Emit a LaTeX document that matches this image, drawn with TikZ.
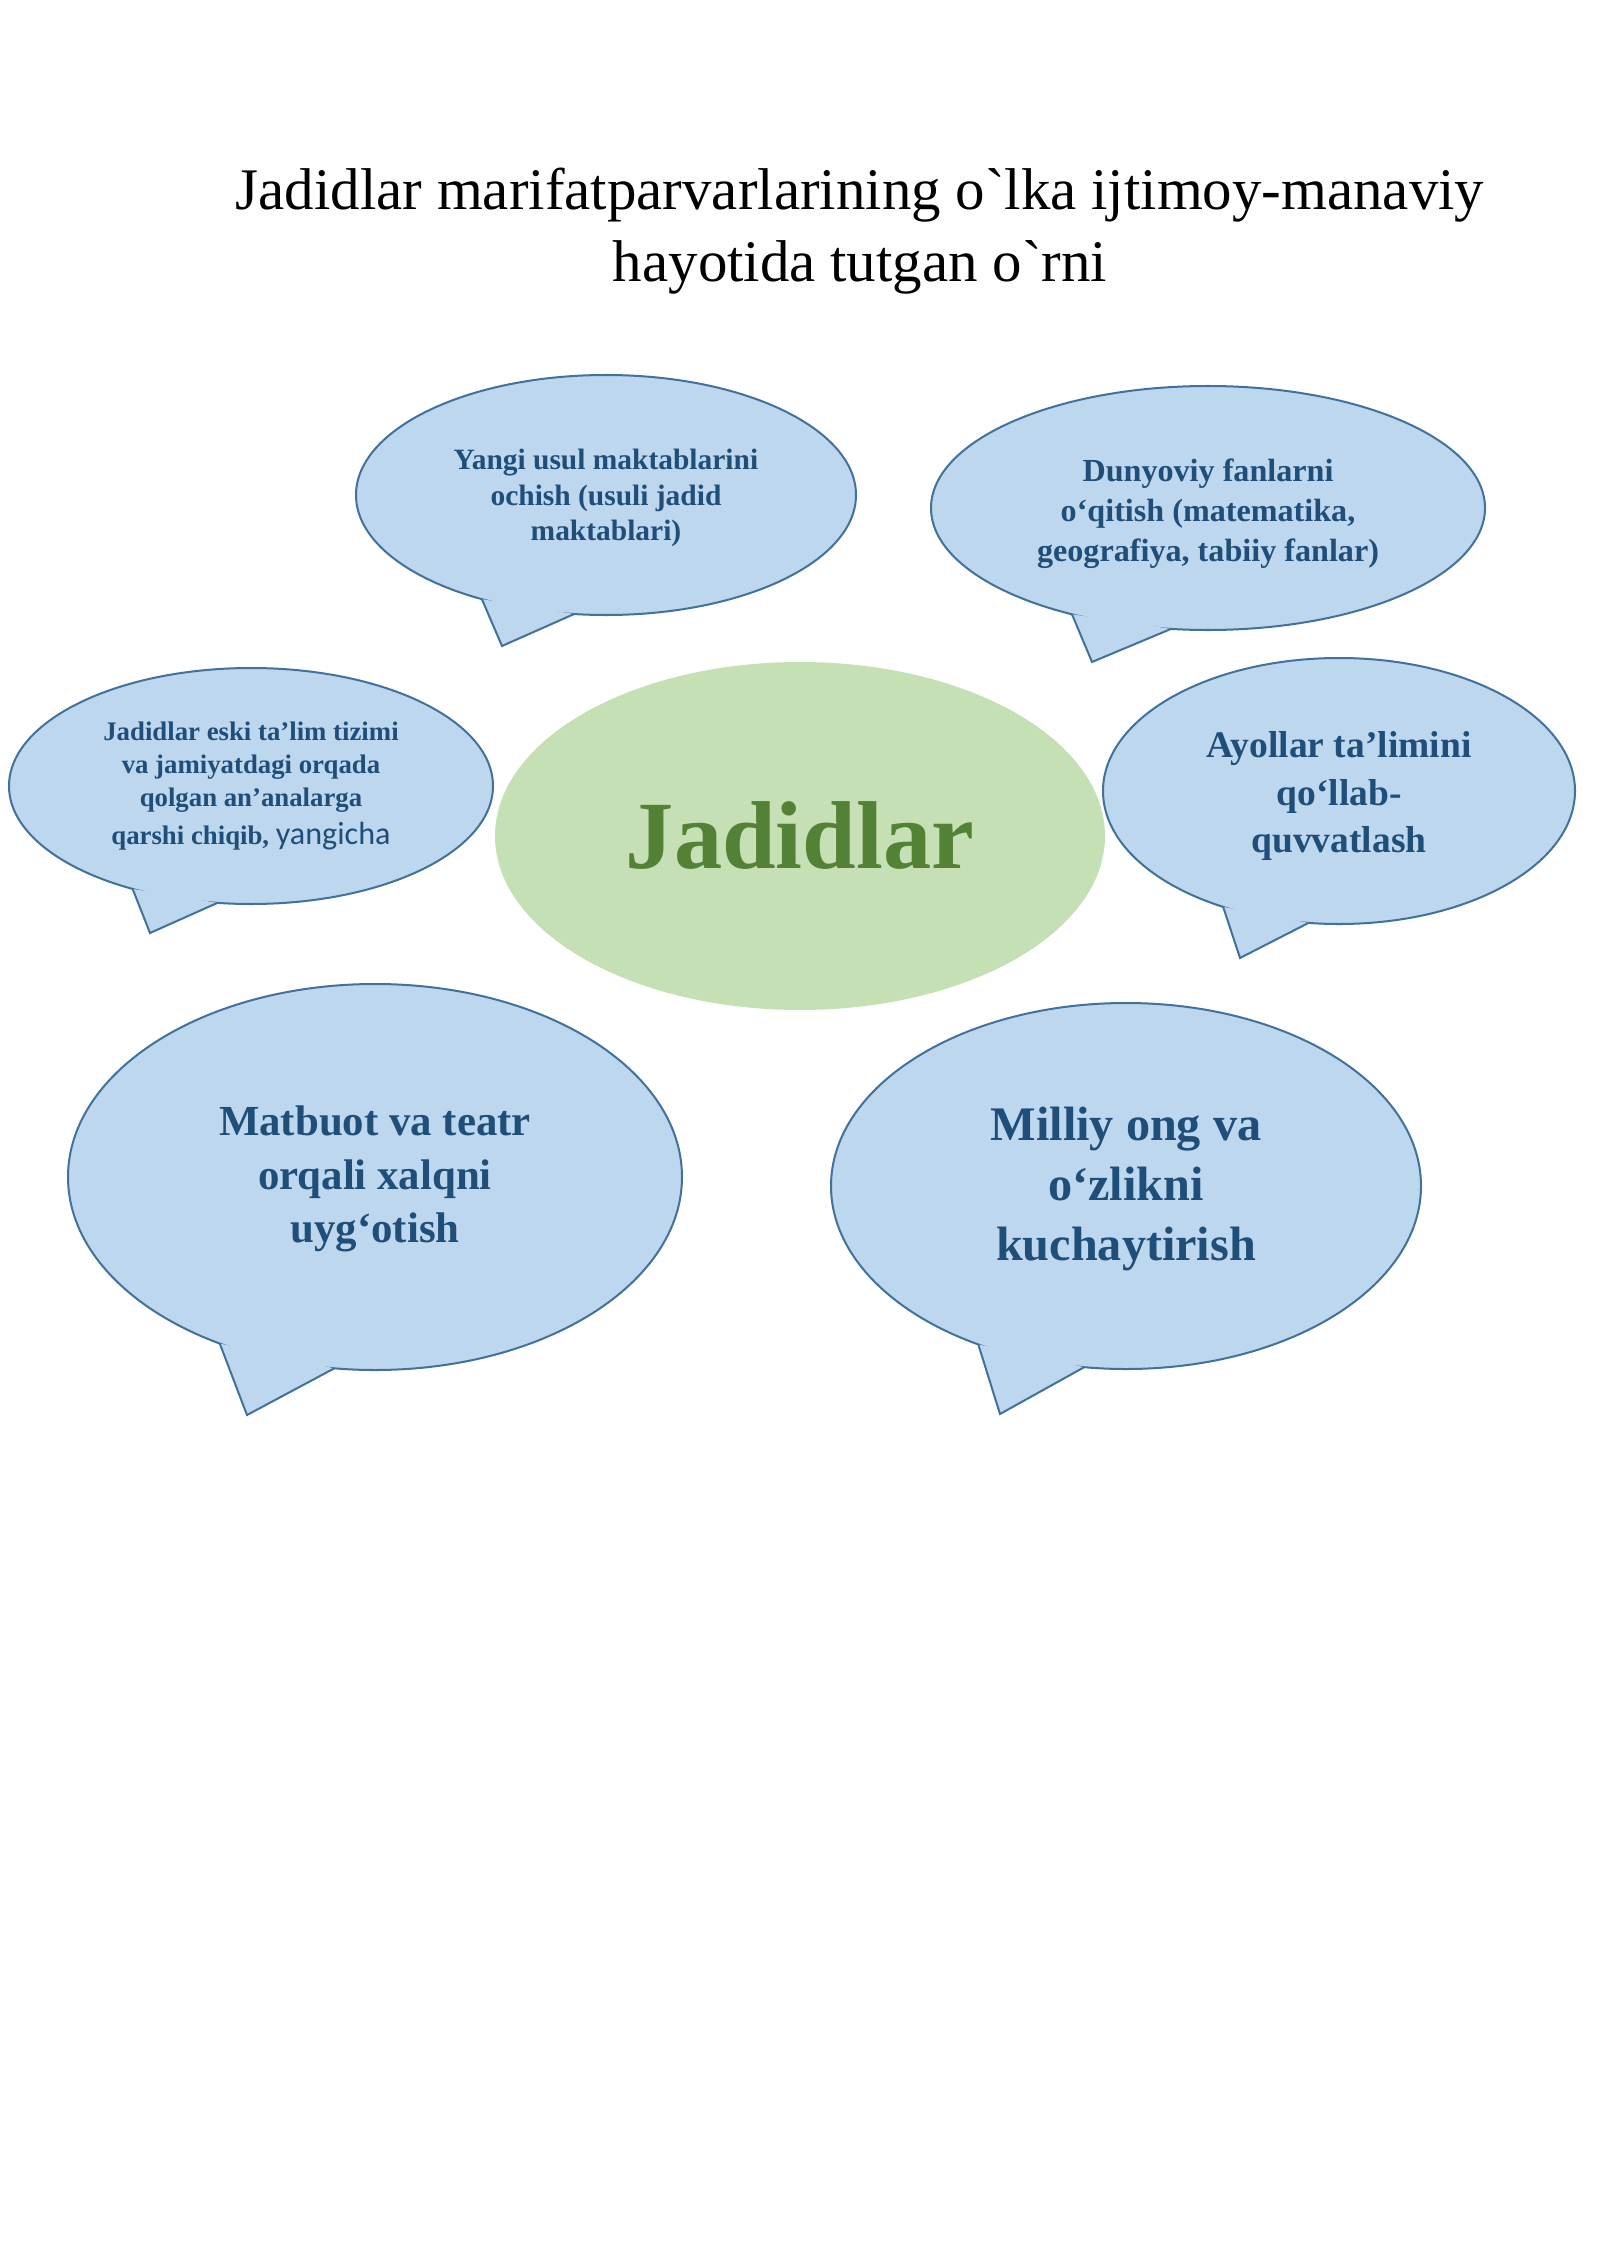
\documentclass[tikz,border=0pt]{standalone}
\usepackage{fontspec}
\setmainfont{Liberation Serif}[Ligatures=TeXOff]
\newfontfamily\calibrifont{Carlito}
\usetikzlibrary{shapes.geometric}
\definecolor{bubblefill}{HTML}{BDD7EE}
\definecolor{bubbleline}{HTML}{41719C}
\definecolor{bubbletext}{HTML}{1F4E79}
\definecolor{corefill}{HTML}{C5E0B4}
\definecolor{coretext}{HTML}{538135}
\newcommand{\px}{0.013125cm}
\newcommand{\bubbletail}[3]{\fill[bubblefill] (#1) -- (#2) -- (#3) -- cycle; \draw[bubbleline, line width=0.75pt] (#1) -- (#2) -- (#3);}

\begin{document}
\begin{tikzpicture}[x=\px, y=-\px,
    bubble/.style 2 args={ellipse, draw=bubbleline, fill=bubblefill, line width=0.75pt,
        inner sep=0pt, outer sep=0pt, minimum width=#1*\px, minimum height=#2*\px},
    words/.style 2 args={text=bubbletext, align=center, inner sep=0pt,
        font=\bfseries\fontsize{#1}{#2}\selectfont}]
    \useasboundingbox (0,0) rectangle (1600,2262);
    \node[font=\fontsize{22}{26.8}\selectfont, align=center] (title) at (860,231)
        {Jadidlar marifatparvarlarining o`lka ijtimoy-manaviy\\hayotida tutgan o`rni};
    %centre
    \node[ellipse, fill=corefill, minimum width=610*\px, minimum height=348*\px, inner sep=0pt] (jadid) at (800,836) {};
    \node[words={36}{43}, text=coretext] (jadidtext) at (800,836) {Jadidlar};
    %bubbles
    \node[bubble={500}{240}] (yangi) at (606,495) {};
    \node[bubble={554}{244}] (dunyo) at (1208,508) {};
    \node[bubble={484}{236}] (eski) at (251,786) {};
    \node[bubble={472}{266}] (ayol) at (1339,791) {};
    \node[bubble={614}{386}] (matbuot) at (375,1177) {};
    \node[bubble={590}{366}] (milliy) at (1126,1186) {};
    %tails
    \foreach \b/\tx/\ty/\p/\q in {yangi/502/646/220/255, dunyo/1092/662/218/253,
        eski/150/933/221/254, ayol/1240/958/225/257,
        matbuot/247/1415/227/258, milliy/1000/1414/227/257} {
    \coordinate (\b tip) at (\tx,\ty);
    \bubbletail{\b.\p}{\b tip}{\b.\q}}
    %texts
    \node[words={11}{13.4}] (yangitext) at (606,498)
        {Yangi usul maktablarini\\ochish (usuli jadid\\maktablari)};
    \node[words={12}{14.9}] (dunyotext) at (1208,514)
        {Dunyoviy fanlarni\\o‘qitish (matematika,\\geografiya, tabiiy fanlar)};
    \node[words={10}{12.3}] (eskitext) at (251,786)
        {Jadidlar eski ta’lim tizimi\\va jamiyatdagi orqada\\qolgan an’analarga\\[2pt]qarshi chiqib, {\calibrifont\mdseries\fontsize{12}{14}\selectfont yangicha}};
    \node[words={14}{17.7}] (ayoltext) at (1339,796)
        {Ayollar ta’limini\\qo‘llab-\\quvvatlash};
    \node[words={16}{19.9}] (matbuottext) at (375,1179)
        {Matbuot va teatr\\orqali xalqni\\uyg‘otish};
    \node[words={18}{22.3}] (milliytext) at (1126,1189)
        {Milliy ong va\\o‘zlikni\\kuchaytirish};
\end{tikzpicture}
\end{document}
